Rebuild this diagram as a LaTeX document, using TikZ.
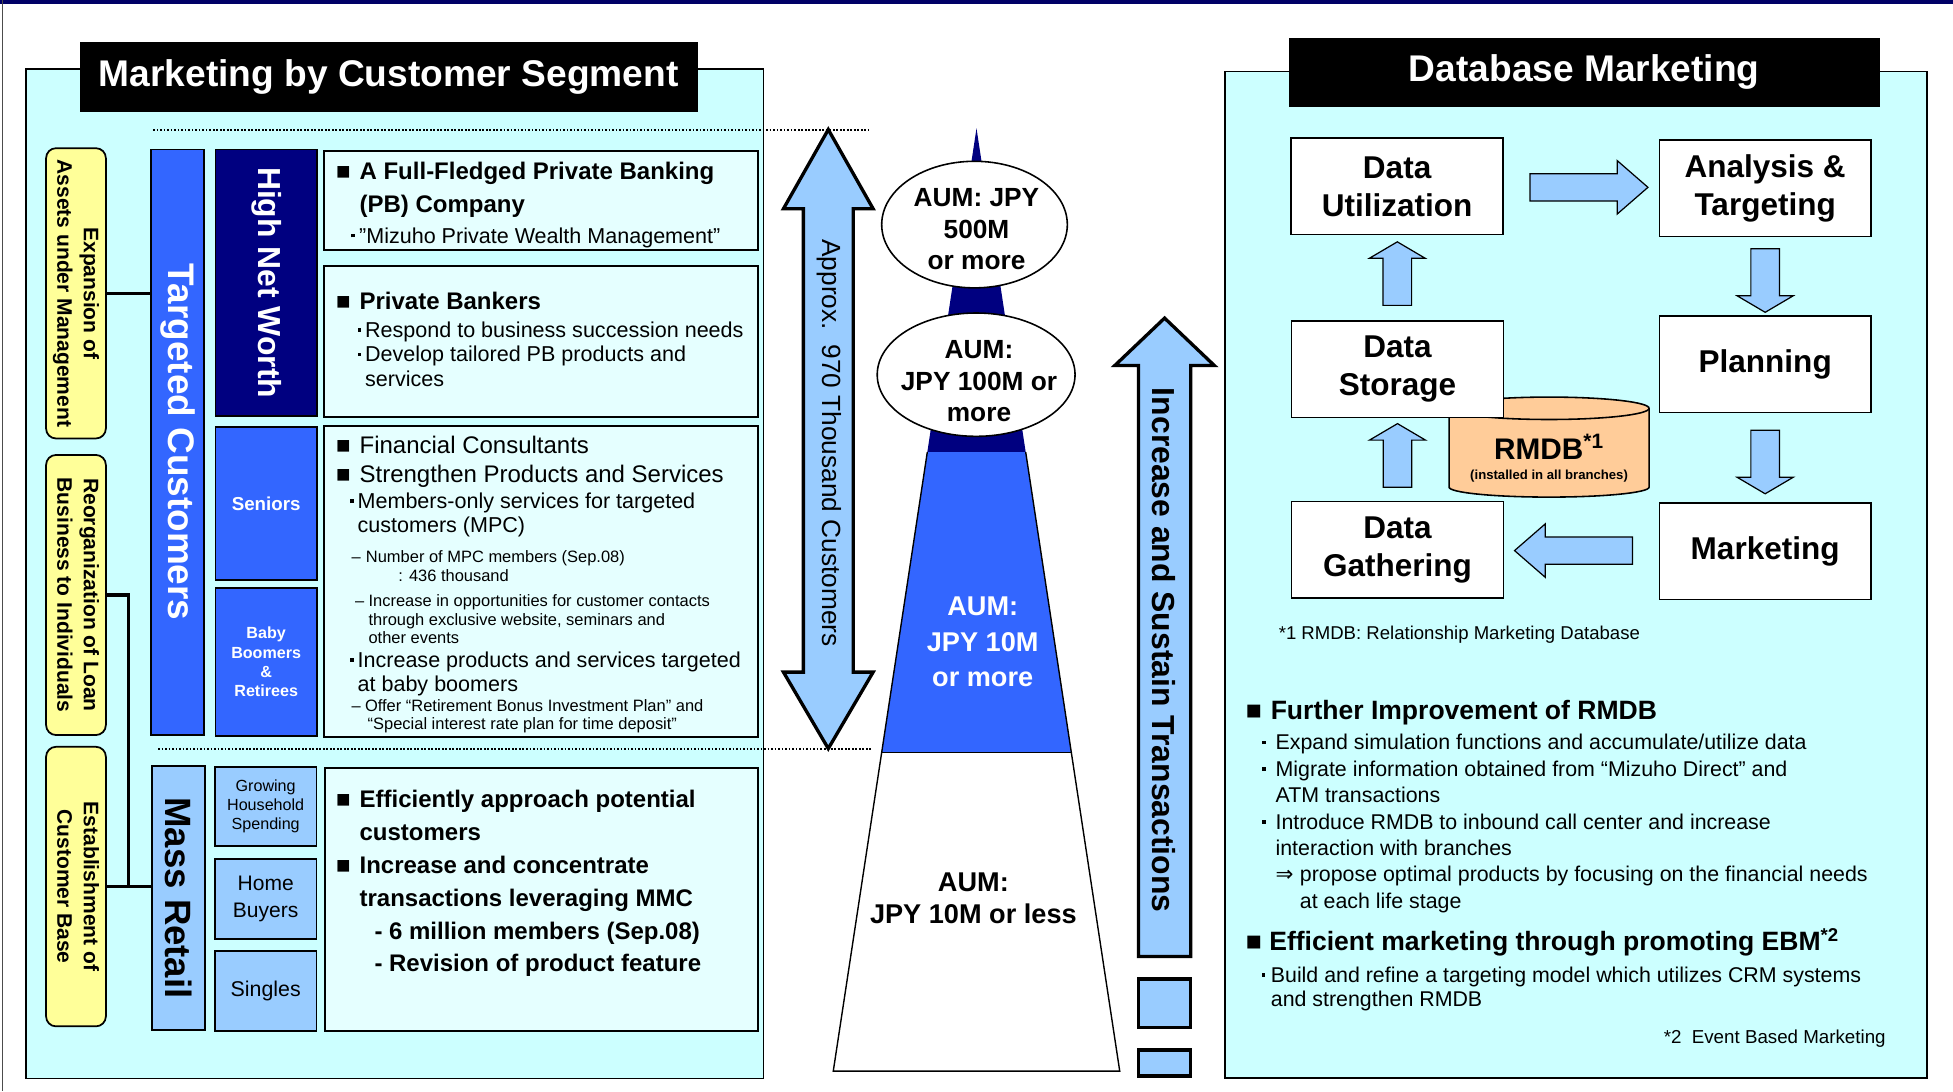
\documentclass[tikz,border=0pt]{standalone}
\usepackage{fontspec}
\setmainfont{Liberation Sans}
\newfontfamily\symfont{DejaVu Sans}
\usetikzlibrary{arrows.meta,positioning,calc,shapes.geometric,shapes.arrows}
\definecolor{panelcyan}{HTML}{CCFFFF}
\definecolor{boxcyan}{HTML}{E5FFFF}
\definecolor{goalyellow}{HTML}{FFFF99}
\definecolor{segnavy}{HTML}{000080}
\definecolor{segblue}{HTML}{3366FF}
\definecolor{seglight}{HTML}{99CCFF}
\definecolor{dbpeach}{HTML}{FFCC99}
\definecolor{topnavy}{HTML}{000066}
\newcommand{\fsz}[2]{\fontsize{#1}{#2}\selectfont}
\newcommand{\sqb}[1]{\makebox[#1][l]{■}}
\newcommand{\dotb}[1]{\makebox[#1][l]{\rule[0.26em]{0.17em}{0.17em}}}
\newcommand{\dashb}[1]{\makebox[#1][l]{–}}
\tikzset{
  panel/.style={draw=black,fill=panelcyan,line width=0.8pt},
  titlebar/.style={fill=black,text=white,inner sep=0pt,font=\fsz{21.2}{25}\bfseries},
  goalbox/.style={draw=black,fill=goalyellow,rounded corners=2mm,line width=1pt,inner sep=0pt,minimum width=12mm,font=\fsz{12}{15.2}\bfseries},
  segbox/.style={draw=black,line width=1pt,inner sep=0pt,align=center,minimum width=20.35mm},
  txtbox/.style={draw=black,fill=boxcyan,line width=1.1pt,inner sep=0pt,minimum width=87mm},
  txt/.style={anchor=north west,inner sep=0pt,align=left},
  link/.style={line width=1.8pt},
  dotline/.style={line width=1.2pt,dash pattern=on 1pt off 1pt},
  bigarr/.style={draw=black,fill=seglight,line width=1.9pt,line join=miter},
  dbbox/.style={draw=black,fill=white,line width=0.9pt,minimum width=42.5mm,minimum height=19.4mm,align=center,font=\fsz{18}{21.7}\bfseries},
  varr/.style={single arrow,draw=black,fill=seglight,line width=0.7pt,inner xsep=0pt,inner ysep=2.75mm,single arrow head extend=2.75mm,single arrow tip angle=119,minimum height=12.75mm},
  harr/.style={single arrow,draw=black,fill=seglight,line width=0.7pt,inner xsep=0pt,inner ysep=2.625mm,single arrow head extend=2.625mm,single arrow tip angle=82,minimum height=23.65mm},
  aum/.style={ellipse,draw=black,fill=white,line width=0.9pt,inner sep=0pt},
  aumtxt/.style={align=center,inner sep=0pt,font=\fsz{15}{18.2}\bfseries}
}

\begin{document}
\begin{tikzpicture}[x=0.025cm,y=-0.025cm]
\useasboundingbox (0,0) rectangle (1568,876);
\fill[topnavy] (0,0) rectangle (1568,3.5);
\draw[black!70,line width=0.8pt] (2,0) -- (2,876);

% customer segments
\draw[panel] (21,55.4) rectangle (613,866);
\node[titlebar,minimum width=124mm,minimum height=14.1mm] (segtitle) at (312,61.7) {Marketing by Customer Segment};
\draw[dotline] (123,104.5) -- (697,104.5);
\draw[dotline] (127,601.5) -- (700,601.5);

\node[goalbox,minimum height=58.25mm] (expand) at (61,235.5) {\rotatebox{-90}{\begin{tabular}{@{}c@{}}Expansion of\\Assets under Management\end{tabular}}};
\node[goalbox,minimum height=56.2mm] (reorg) at (61,477.7) {\rotatebox{-90}{\begin{tabular}{@{}c@{}}Reorganization of Loan\\Business to Individuals\end{tabular}}};
\node[goalbox,minimum height=56.1mm] (establish) at (61,711.8) {\rotatebox{-90}{\begin{tabular}{@{}c@{}}Establishment of\\Customer Base\end{tabular}}};

\node[segbox,fill=segblue,text=white,minimum width=10.75mm,minimum height=117.5mm,font=\fsz{21.1}{25}\bfseries] (target) at (142.5,355) {\rotatebox{-90}{Targeted Customers}};
\node[segbox,fill=seglight,minimum width=10.6mm,minimum height=53mm,font=\fsz{20.9}{25}\bfseries] (retail) at (143.2,721) {\rotatebox{-90}{Mass Retail}};
\draw[link] (expand.east) -- (expand.east -| target.west);
\draw[link] (establish.east) -- (establish.east -| retail.west);
\draw[link] (reorg.east) -| ($(establish.east)!0.5!(establish.east -| retail.west)$);

\node[segbox,fill=segnavy,text=white,minimum height=53.5mm,font=\fsz{18.2}{22}\bfseries] (hnw) at (213.7,227) {\rotatebox{-90}{High Net Worth}};
\node[segbox,fill=segblue,text=white,minimum height=30.7mm,font=\fsz{10.7}{13}\bfseries] (senior) at (213.7,404.4) {Seniors};
\node[segbox,fill=segblue,text=white,minimum height=29.6mm,font=\fsz{9.2}{11.1}\bfseries] (boomer) at (213.7,531.5) {Baby\\Boomers\\\&\\Retirees};
\node[segbox,fill=seglight,minimum height=15.95mm,font=\fsz{9.2}{11.1}] (spend) at (213.3,647.4) {Growing\\Household\\Spending};
\node[segbox,fill=seglight,minimum height=16.05mm,font=\fsz{12}{15.2}] (home) at (213.3,721.8) {Home\\Buyers};
\node[segbox,fill=seglight,minimum height=16.1mm,font=\fsz{12.2}{15}] (single) at (213.3,795.5) {Singles};

\node[txtbox,minimum height=19.9mm] (pbco) at (434.5,161) {};
\node[txtbox,minimum height=30.35mm] (pbank) at (434.5,274.3) {};
\node[txtbox,minimum height=62.4mm] (fcons) at (434.5,466.8) {};
\node[txtbox,minimum height=52.85mm] (mass) at (434.8,722.1) {};

\node[txt,font=\fsz{13.7}{18.5}\bfseries] (pbcohead) at (269.6,130.2) {\sqb{13.4pt}A Full-Fledged Private Banking\\\hspace*{13.4pt}(PB) Company};
\node[txt,font=\fsz{12.3}{14}] (pbcosub) at (281.6,182.3) {\dotb{4.6pt}”Mizuho Private Wealth Management”};
\node[txt,font=\fsz{13.7}{16}\bfseries] (bankhead) at (269.6,234.6) {\sqb{13.4pt}Private Bankers};
\node[txt,font=\fsz{12.3}{14}] (banktxt) at (286.8,258) {\dotb{4.3pt}Respond to business succession needs\\\dotb{4.3pt}Develop tailored PB products and\\\hspace*{4.3pt}services};
\node[txt,font=\fsz{13.7}{16.5}] (fchead) at (269.6,349.7) {\sqb{13.4pt}Financial Consultants\\\sqb{13.4pt}Strengthen Products and Services};
\node[txt,font=\fsz{12.3}{13.5}] (mpctxt) at (280.8,395.6) {\dotb{4.3pt}Members-only services for targeted\\\hspace*{4.3pt}customers (MPC)};
\node[txt,font=\fsz{9.4}{11.1}] (mpcnum) at (282,441.5) {\dashb{8.2pt}Number of MPC members (Sep.08)\\\hspace*{26.7pt}: 436 thousand};
\node[txt,font=\fsz{9.4}{10.8}] (mpcevt) at (284.8,476.8) {\dashb{7.7pt}Increase in opportunities for customer contacts\\\hspace*{7.7pt}through exclusive website, seminars and\\\hspace*{7.7pt}other events};
\node[txt,font=\fsz{12.3}{13.65}] (boomtxt) at (280.8,523) {\dotb{4.3pt}Increase products and services targeted\\\hspace*{4.3pt}at baby boomers};
\node[txt,font=\fsz{9.4}{10.1}] (boomplan) at (282,561.7) {\dashb{7.7pt}Offer “Retirement Bonus Investment Plan” and\\\hspace*{9.2pt}“Special interest rate plan for time deposit”};
\node[txt,font=\fsz{13.7}{18.8}\bfseries] (masstxt) at (269.6,633.9) {\sqb{13.4pt}Efficiently approach potential\\\hspace*{13.4pt}customers\\\sqb{13.4pt}Increase and concentrate\\\hspace*{13.4pt}transactions leveraging MMC\\\hspace*{21.9pt}- 6 million members (Sep.08)\\\hspace*{21.9pt}- Revision of product feature};

% customer pyramid
\draw[bigarr] (665,104) -- (701,167.6) -- (685,167.6) -- (685,539.6) -- (701,539.6) -- (665,601) -- (629,539.6) -- (645,539.6) -- (645,167.6) -- (629,167.6) -- cycle;
\node[rotate=-90,font=\fsz{15}{18}] (custcount) at (665.7,355.7) {Approx.\ \ 970 Thousand Customers};

\coordinate (apex) at (784,103);
\coordinate (botl) at (669,860);
\coordinate (botr) at (899,860);
\coordinate (hil) at ($(apex)!0.3435!(botl)$);
\coordinate (hir) at ($(apex)!0.3435!(botr)$);
\coordinate (midl) at ($(apex)!0.6618!(botl)$);
\coordinate (midr) at ($(apex)!0.6618!(botr)$);
\fill[segnavy] (apex) -- (hil) -- (hir) -- cycle;
\fill[segblue] (hil) -- (midl) -- (midr) -- (hir) -- cycle;
\fill[white] (midl) -- (botl) -- (botr) -- (midr) -- cycle;
\draw[line width=0.8pt] (hil) -- (botl) -- (botr) -- (hir);
\draw[line width=0.6pt] (midl) -- (midr);

\node[aum,minimum width=37.25mm,minimum height=25.4mm] (e500) at (782.4,180.3) {};
\node[aumtxt] (t500) at (784,184) {AUM: JPY\\500M\\or more};
\node[aum,minimum width=39.7mm,minimum height=24.75mm] (e100) at (783.7,300.8) {};
\node[aumtxt] (t100) at (786,306) {AUM:\\JPY 100M or\\more};
\node[aumtxt,text=white,font=\fsz{15.5}{20.2}\bfseries] (t10) at (789,515.5) {AUM:\\JPY 10M\\or more};
\node[aumtxt,font=\fsz{15.5}{18.4}\bfseries] (tless) at (781.5,721.5) {AUM:\\JPY 10M or less};

\draw[bigarr] (935,255.4) -- (975,293.5) -- (956,293.5) -- (956,768) -- (914,768) -- (914,293.5) -- (895,293.5) -- cycle;
\node[rotate=-90,font=\fsz{18.2}{21}\bfseries] (sustain) at (934.8,522) {Increase and Sustain Transactions};
\draw[bigarr] (914,786) rectangle (956,825);
\draw[bigarr] (914,843) rectangle (956,864);

% database marketing
\draw[panel] (983.5,57.3) rectangle (1547.2,865.5);
\node[titlebar,minimum width=118.65mm,minimum height=13.9mm] (dbtitle) at (1272,58) {Database Marketing};

\fill[dbpeach] (1163.4,327.8) -- (1163.4,391.1) arc (180:0:80.3 and 8) -- (1324,327.8) arc (0:-180:80.3 and 9) -- cycle;
\draw[line width=0.9pt] (1163.4,327.8) -- (1163.4,391.1) arc (180:0:80.3 and 8) -- (1324,327.8);
\draw[line width=0.9pt] (1243.7,327.8) ellipse (80.3 and 9);
\node[inner sep=0pt,font=\fsz{17}{19}\bfseries] (rmdb) at (1243.7,359) {RMDB\textsuperscript{*1}};
\node[below=1.9mm of rmdb,inner sep=0pt,font=\fsz{7.5}{9}\bfseries] (rmdbnote) {(installed in all branches)};

\node[dbbox] (util) at (1121.7,149.6) {Data\\Utilization};
\node[dbbox] (anal) at (1417.2,151.2) {Analysis \&\\Targeting};
\node[dbbox] (store) at (1122,296.5) {Data\\Storage};
\node[dbbox] (plan) at (1417.2,292.5) {Planning};
\node[dbbox] (gather) at (1122,441.5) {Data\\Gathering};
\node[dbbox] (mktg) at (1417.2,442.6) {Marketing};

\node[harr] (u2a) at ($(util.east)!0.5!(anal.west)$) {};
\node[varr,rotate=-90] (a2p) at ($(anal.south)!0.5!(plan.north)$) {};
\node[varr,rotate=-90] (p2m) at ($(plan.south)!0.5!(mktg.north)$) {};
\node[harr,rotate=180] (m2g) at ($(mktg.west)!0.5!(gather.east)$) {};
\node[varr,rotate=90] (g2s) at ($(gather.north)!0.5!(store.south)$) {};
\node[varr,rotate=90] (s2u) at ($(store.north)!0.5!(util.south)$) {};

\node[txt,font=\fsz{10.6}{13}] (fnrmdb) at (1026.4,502.5) {*1 RMDB: Relationship Marketing Database};
\node[txt,font=\fsz{15.15}{18}\bfseries] (rmdbhead) at (1000,561.6) {\sqb{14.2pt}Further Improvement of RMDB};
\node[txt,font=\fsz{12.2}{15.1}] (rmdbtxt) at (1013.3,589.2) {\dotb{7.5pt}Expand simulation functions and accumulate/utilize data\\\dotb{7.5pt}Migrate information obtained from “Mizuho Direct” and\\\hspace*{7.5pt}ATM transactions\\\dotb{7.5pt}Introduce RMDB to inbound call center and increase\\\hspace*{7.5pt}interaction with branches\\\hspace*{7.5pt}\makebox[13.9pt][l]{\symfont ⇒}propose optimal products by focusing on the financial needs\\\hspace*{21.4pt}at each life stage};
\node[txt,font=\fsz{15.15}{18}\bfseries] (ebmhead) at (1000,744.9) {\sqb{13.4pt}Efficient marketing through promoting EBM\textsuperscript{*2}};
\node[txt,font=\fsz{12.2}{13.65}] (ebmtxt) at (1012.6,776) {\dotb{5.3pt}Build and refine a targeting model which utilizes CRM systems\\\hspace*{5.3pt}and strengthen RMDB};
\node[txt,anchor=north east,font=\fsz{10.7}{13}] (fnebm) at (1514.2,826.7) {*2\ \ Event Based Marketing};
\end{tikzpicture}
\end{document}
